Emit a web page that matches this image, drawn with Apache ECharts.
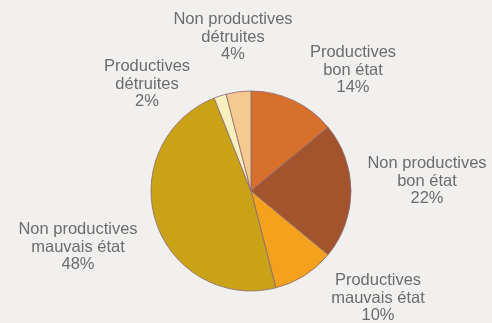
<!DOCTYPE html>
<html>
<head>
<meta charset="utf-8">
<script src="https://cdn.jsdelivr.net/npm/echarts@6/dist/echarts.min.js"></script>
<style>
  html, body { margin: 0; padding: 0; background: #f1f0ee; }
  #chart { width: 492px; height: 323px; }
</style>
</head>
<body>
<div id="chart"></div>
<script>
// Share of parcels by state, clockwise from the top
const categories = [
  'Productives\nbon état',
  'Non productives\nbon état',
  'Productives\nmauvais état',
  'Non productives\nmauvais état',
  'Productives\ndétruites',
  'Non productives\ndétruites'
];
const shares = [14, 22, 10, 48, 2, 4];
const sliceColors = ['#d6702c', '#a3542c', '#f4a11e', '#c9a218', '#f7efbd', '#f5c98f'];

// Label anchor points (text block centres) around the pie
const labelAnchors = [
  [353, 70],
  [427, 181],
  [378, 298],
  [78, 247],
  [147, 84],
  [233, 37]
];

const chart = echarts.init(document.getElementById('chart'), null, { renderer: 'canvas' });

chart.setOption({
  backgroundColor: '#f1f0ee',
  animation: false,
  series: [{
    type: 'pie',
    center: [251, 191],
    radius: 100,
    startAngle: 90,
    clockwise: true,
    data: categories.map((name, i) => ({
      name: name,
      value: shares[i],
      itemStyle: { color: sliceColors[i] }
    })),
    itemStyle: { borderColor: '#8c6a72', borderWidth: 0.8 },
    label: {
      show: true,
      position: 'inside',
      overflow: 'none',
      formatter: p => p.name + '\n' + p.value + '%',
      color: '#6c6c6c',
      fontFamily: '"Liberation Sans", Arial, sans-serif',
      fontSize: 16.5,
      lineHeight: 17.5,
      align: 'center'
    },
    labelLine: { show: false },
    labelLayout: params => {
      const a = labelAnchors[params.dataIndex];
      return { x: a[0], y: a[1], align: 'center', verticalAlign: 'middle' };
    },
    emphasis: { disabled: true }
  }]
});
</script>
</body>
</html>
